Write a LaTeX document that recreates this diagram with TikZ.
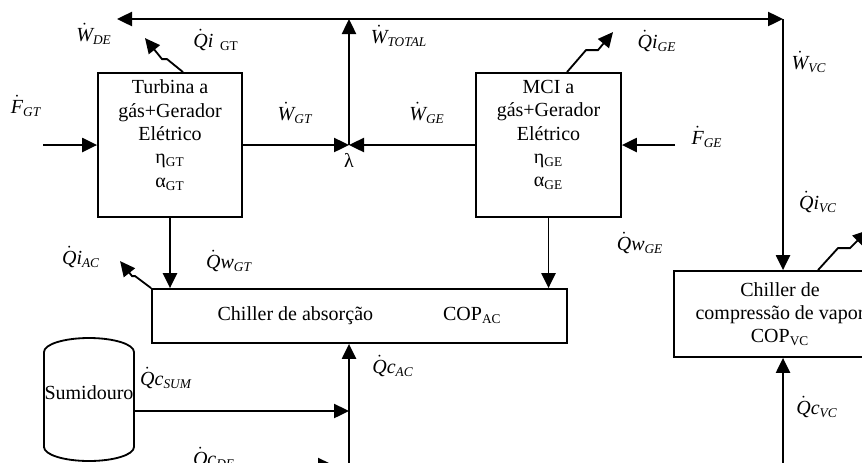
\documentclass[tikz,border=0pt]{standalone}
\usepackage{amsmath}
\usepackage{fontspec}
\setmainfont{Liberation Serif}
\usetikzlibrary{arrows.meta}

% fluxo : grandeza com ponto, letra, índice
\newcommand{\fluxo}[3]{$\dot{\textit{#1}}\textit{#2}_{\textit{#3}}$}

\begin{document}
\begin{tikzpicture}[x=0.6pt, y=-0.6pt, >={Triangle[length=9pt,width=8.5pt]},
    font=\fontsize{12}{14}\selectfont]
        % --- Estilos ---
        \tikzset{
            bloco/.style={draw, line width=1.1pt, align=center, inner sep=0pt},
            texto/.style={align=center, inner sep=0pt},
            rotulo/.style={inner sep=0pt},
            fluxo/.style={->, line width=1.1pt},
            perda/.style={->, line width=1.1pt, line join=miter}
        }

        % Moldura (imagem recortada)
        \useasboundingbox (0,0) rectangle (862,462);
        \clip (0,0) rectangle (862,462);

        % =====================================================================
        % BLOCOS
        % =====================================================================
        \node[bloco, minimum width=86.4pt, minimum height=86.4pt] (turbina) at (170,145) {};
        \node[texto] (turbinaTxt) at (170,135)
            {Turbina a\\gás+Gerador\\Elétrico\\η\textsubscript{GT}\\α\textsubscript{GT}};

        \node[bloco, minimum width=87pt, minimum height=86.4pt] (mci) at (548.5,145) {};
        \node[texto] (mciTxt) at (548.5,135)
            {MCI a\\gás+Gerador\\Elétrico\\η\textsubscript{GE}\\α\textsubscript{GE}};

        \node[bloco, minimum width=249pt, minimum height=32.4pt] (absorcao) at (359.5,316)
            {Chiller de absorção\hspace{42pt}COP\textsubscript{AC}};

        \node[bloco, minimum width=127.2pt, minimum height=51.6pt] (compressao) at (780,314)
            {Chiller de\\compressão de vapor\\COP\textsubscript{VC}};

        % Sumidouro (cilindro)
        \draw[line width=1.1pt] (44,447) -- (44,352)
            arc[start angle=180, end angle=0, x radius=27pt, y radius=8.4pt]
            -- (134,447)
            arc[start angle=0, end angle=-180, x radius=27pt, y radius=8.4pt] -- cycle;
        \node[texto] (sumidouro) at (89,393) {Sumidouro};

        % =====================================================================
        % PONTOS DE LIGAÇÃO
        % =====================================================================
        \coordinate (lam) at (349,145);
        \coordinate (topo) at (349,19);
        \coordinate (deFim) at (117,19);
        \coordinate (vcCanto) at (783,19);
        \coordinate (fgtIn) at (43,145);
        \coordinate (fgeIn) at (675,145);
        \coordinate (acJ) at (349,411);
        \coordinate (acIn) at (349,480);
        \coordinate (vcIn) at (783,480);
        \coordinate (sumR) at (134,411);
        \coordinate (deIn) at (150,465);
        \coordinate (deOut) at (333,465);

        % =====================================================================
        % FLUXOS
        % =====================================================================
        \draw[fluxo] (fgtIn) -- (turbina.west);
        \draw[fluxo] (fgeIn) -- (mci.east);
        \draw[fluxo] (turbina.east) -- (lam);
        \draw[fluxo] (mci.west) -- (lam);
        \draw[fluxo] (lam) -- (topo);
        \draw[fluxo] (topo) -- (deFim);
        \draw[fluxo] (topo) -- (vcCanto);
        \draw[fluxo] (vcCanto) -- (vcCanto |- compressao.north);
        \draw[fluxo] (turbina.south) -- (turbina.south |- absorcao.north);
        \draw[fluxo] (mci.south) -- (mci.south |- absorcao.north);
        \draw[fluxo] (acIn) -- (acIn |- absorcao.south);
        \draw[fluxo] (sumR) -- (acJ);
        \draw[fluxo] (deIn) -- (deOut);
        \draw[fluxo] (vcIn) -- (vcIn |- compressao.south);

        % Perdas (setas quebradas)
        \draw[perda] ([xshift=7.8pt]turbina.north) -- ++(-16,-13) -- ++(-5,0) -- ++(-17,-21);
        \draw[perda] ([xshift=11.1pt]mci.north) -- ++(19,-22) -- ++(12,0) -- ++(15,-18);
        \draw[perda] ([xshift=22.8pt]compressao.north) -- ++(20,-22) -- ++(12,0) -- ++(18,-18);
        \draw[perda] (absorcao.north west) -- ++(-16,-12) -- ++(-3,0) -- ++(-12,-15);

        % =====================================================================
        % RÓTULOS
        % =====================================================================
        \node[rotulo] (lamTxt) at (349,160) {λ};
        \node[rotulo] (wde) at (94,34) {\fluxo{W}{}{DE}};
        \node[rotulo] (qigt) at (216,40) {$\dot{\textit{Q}}\textit{i}$\,\,\textsubscript{GT}};
        \node[rotulo] (wtotal) at (399,36) {\fluxo{W}{}{TOTAL}};
        \node[rotulo] (wgt) at (295,113) {\fluxo{W}{}{GT}};
        \node[rotulo] (wge) at (427,113) {\fluxo{W}{}{GE}};
        \node[rotulo] (fgt) at (26,106) {\fluxo{F}{}{GT}};
        \node[rotulo] (fge) at (707,137) {\fluxo{F}{}{GE}};
        \node[rotulo] (qige) at (657,41) {\fluxo{Q}{i}{GE}};
        \node[rotulo] (wvc) at (809,62) {\fluxo{W}{}{VC}};
        \node[rotulo] (qivc) at (818,202) {\fluxo{Q}{i}{VC}};
        \node[rotulo] (qwge) at (640,243) {\fluxo{Q}{w}{GE}};
        \node[rotulo] (qwgt) at (229,261) {\fluxo{Q}{w}{GT}};
        \node[rotulo] (qiac) at (81,257) {\fluxo{Q}{i}{AC}};
        \node[rotulo] (qcac) at (393,366) {\fluxo{Q}{c}{AC}};
        \node[rotulo] (qcsum) at (166,378) {\fluxo{Q}{c}{SUM}};
        \node[rotulo] (qcde) at (214,458) {\fluxo{Q}{c}{DE}};
        \node[rotulo] (qcvc) at (817,407) {\fluxo{Q}{c}{VC}};

    \end{tikzpicture}
\end{document}
